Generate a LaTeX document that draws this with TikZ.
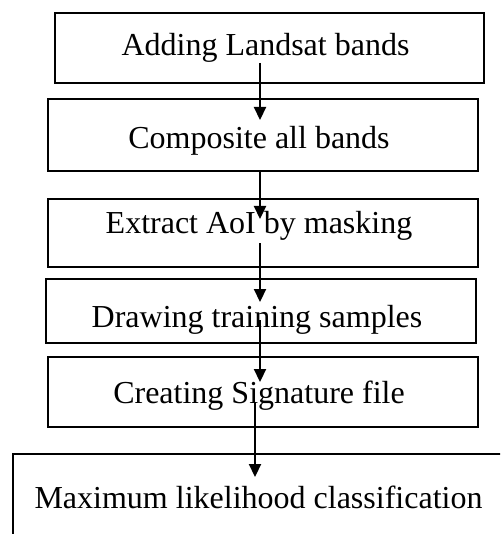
\documentclass[tikz,border=0pt]{standalone}
\usepackage{fontspec}
\setmainfont{Liberation Serif}
\usepackage{tikz}
\usetikzlibrary{arrows.meta}

\begin{document}
\begin{tikzpicture}[x = 1pt, y = -1pt,
    every node/.style = { draw, align = center, shape = rectangle, line width = 2.8pt,
      font = \fontsize{32}{38}\selectfont, text height = 22pt, text depth = 7pt },
    flow/.style = { line width = 2.2pt, -{Triangle[width = 12pt, length = 13pt]} }]
    \clip (0,0) rectangle (500,534);
    \useasboundingbox (0,0) rectangle (500,534);

     \node (b1) [minimum width = 429pt, minimum height = 70pt] at (269.5,48) { Adding Landsat bands };
     \node (b2) [minimum width = 430pt, minimum height = 72pt, text height = 34pt] at (263,135) { Composite all bands };
     \node (b3) [minimum width = 430pt, minimum height = 68pt, text depth = 21pt] at (263,233) { Extract AoI by masking };
     \node (b4) [minimum width = 430pt, minimum height = 64pt, text height = 40pt] at (261,311) { Drawing training samples };
     \node (b5) [minimum width = 430pt, minimum height = 70pt, text height = 30pt] at (263,392) { Creating Signature file };
     \node (b6) [minimum width = 499pt, minimum height = 87pt, text height = 28pt] at (262.5,497.5) { Maximum likelihood classification };

    \coordinate (spine) at (260,0);
    \coordinate (spinelow) at (255,0);

      \draw [flow] ([yshift = -15pt]b1.center -| spine) -- ([yshift = 15pt]b2.center -| spine);
      \draw [flow] (b2.south -| spine) -- ([yshift = 14pt]b3.center -| spine);
      \draw [flow] ([yshift = -10pt]b3.center -| spine) -- ([yshift = 9pt]b4.center -| spine);
      \draw [flow] ([yshift = -9pt]b4.center -| spine) -- ([yshift = 10pt]b5.center -| spine);
      \draw [flow] ([yshift = -11pt]b5.center -| spinelow) -- ([yshift = 20.5pt]b6.center -| spinelow);
    \end{tikzpicture}
\end{document}
